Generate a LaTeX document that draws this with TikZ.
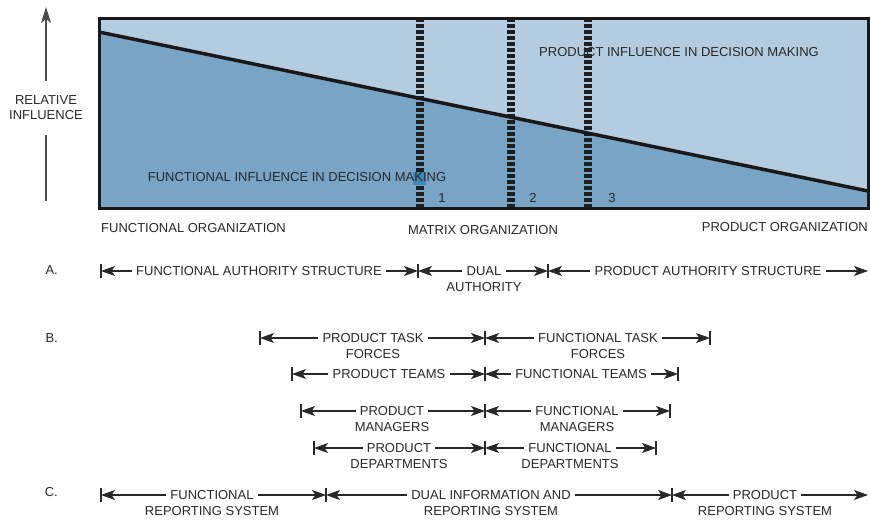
\documentclass[tikz,border=0pt]{standalone}
\usepackage{fontspec}
\setmainfont{Liberation Sans}
\usetikzlibrary{arrows.meta, positioning}

\definecolor{prodblue}{RGB}{180,204,224}
\definecolor{funcblue}{RGB}{120,165,197}
\definecolor{markblue}{RGB}{62,136,182}
\definecolor{inkgray}{RGB}{40,40,40}

\begin{document}
\begin{tikzpicture}[x=1pt, y=-1pt,
    every node/.style={font=\fontsize{13}{15}\selectfont, inner sep=0pt, text=inkgray},
    lbl/.style={inner xsep=4pt},
    span/.style={-{Stealth[length=14pt, width=10pt, inset=3.5pt]}, inkgray, line width=1.1pt},
    tick/.style={inkgray, line width=1.1pt},
    divider/.style={line width=8pt, dash pattern=on 3.5pt off 2.5pt, black!88}]
    \useasboundingbox (0,0) rectangle (870,520);

    % influence chart
    \fill[prodblue] (99,18) rectangle (868,208);
    \fill[funcblue] (99,32) -- (868,191) -- (868,208) -- (99,208) -- cycle;
    \foreach \x in {420, 511, 588}
        \draw[divider] (\x,18) -- (\x,208);
    \draw[line width=3.5pt, black!90] (99,32) -- (868,191);
    \draw[line width=3pt, black!90] (99,18) rectangle (868,208);
    \fill[markblue] (413,172) rectangle (426,185);

    \node (prodinf) at (679,52) {PRODUCT INFLUENCE IN DECISION MAKING};
    \node (funcinf) at (297,177) {FUNCTIONAL INFLUENCE IN DECISION MAKING};
    \node (one) at (442,198) {1};
    \node (two) at (533,198) {2};
    \node (three) at (612,198) {3};

    % relative influence axis
    \node[align=center, inner ysep=15pt] (relinf) at (46,108) {RELATIVE\\INFLUENCE};
    \coordinate (axbot) at (46,201);
    \coordinate (axtop) at (46,7);
    \draw[gray!60!black, line width=1.2pt] (axbot) -- (relinf);
    \draw[-{Stealth[length=16pt, width=10pt, inset=4pt]}, gray!60!black, line width=1.2pt] (relinf) -- (axtop);

    \node[anchor=west] (funcorg) at (101,228) {FUNCTIONAL ORGANIZATION};
    \node (matorg) at (483,230) {MATRIX ORGANIZATION};
    \node[anchor=east] (prodorg) at (868,227) {PRODUCT ORGANIZATION};

    \node[anchor=east] (rowa) at (58,270) {A.};
    \node[anchor=east] (rowb) at (58,338) {B.};
    \node[anchor=east] (rowc) at (58,492) {C.};

    % spans
    \foreach \nm/\xl/\xr/\xc/\yy/\txt in {
        fa/101/418/259/271/FUNCTIONAL AUTHORITY STRUCTURE,
        da/418/548/484/271/DUAL,
        pa/548/868/708/271/PRODUCT AUTHORITY STRUCTURE,
        ptf/260/485/373/338/PRODUCT TASK,
        ftf/485/710/598/338/FUNCTIONAL TASK,
        pt/292/485/389/374/PRODUCT TEAMS,
        ft/485/678/581/374/FUNCTIONAL TEAMS,
        pm/301/485/392/411/PRODUCT,
        fm/485/670/577/411/FUNCTIONAL,
        pd/314/485/399/448/PRODUCT,
        fd/485/656/570/448/FUNCTIONAL,
        fr/101/326/212/495/FUNCTIONAL,
        dr/326/672/491/495/DUAL INFORMATION AND,
        pr/672/868/765/495/PRODUCT} {
        \coordinate (\nm-l) at (\xl,\yy);
        \coordinate (\nm-r) at (\xr,\yy);
        \node[lbl] (\nm) at (\xc,\yy) {\txt};
        \draw[span] (\nm) -- (\nm-l);
        \draw[span] (\nm) -- (\nm-r);
    }
    \foreach \nm/\txt in {da/AUTHORITY, ptf/FORCES, ftf/FORCES, pm/MANAGERS, fm/MANAGERS,
        pd/DEPARTMENTS, fd/DEPARTMENTS, fr/REPORTING SYSTEM, dr/REPORTING SYSTEM, pr/REPORTING SYSTEM}
        \node[below=6.5pt of \nm] (\nm-b) {\txt};

    \foreach \x/\y in {101/271, 418/271, 548/271, 260/338, 485/338, 710/338,
        292/374, 485/374, 678/374, 301/411, 485/411, 670/411, 314/448, 485/448, 656/448,
        101/495, 326/495, 672/495}
        \draw[tick] (\x,\y-7) -- (\x,\y+7);
\end{tikzpicture}
\end{document}
